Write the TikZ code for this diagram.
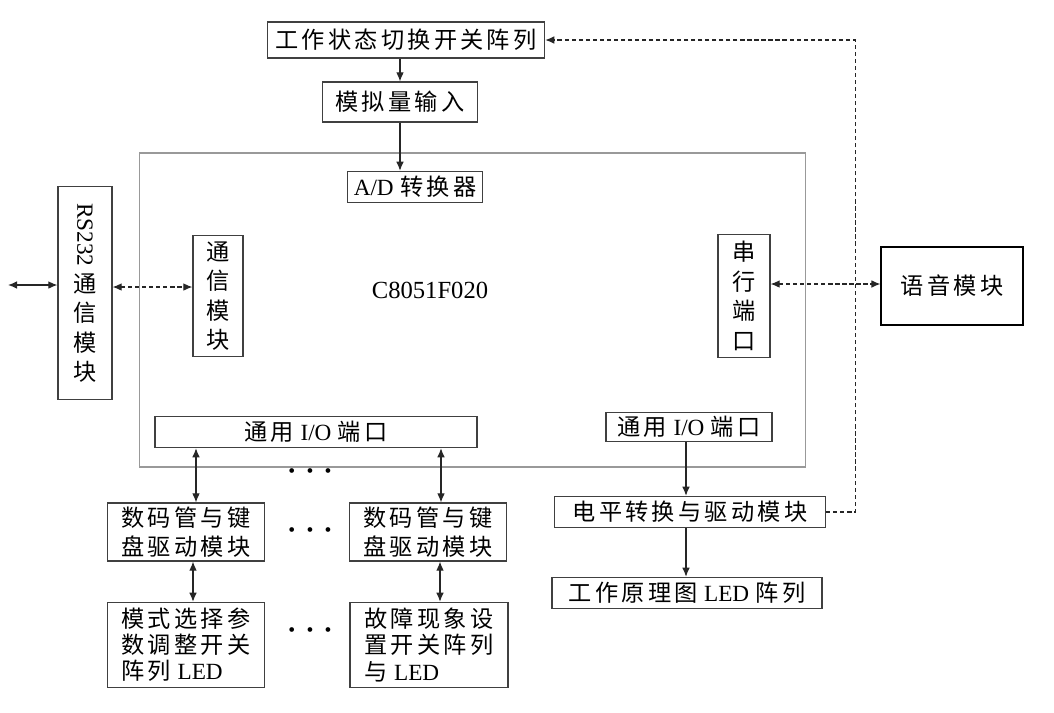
\documentclass[tikz,border=0pt]{standalone}
\usepackage{fontspec}
\usepackage{graphicx}
\setmainfont{Liberation Serif}
\newfontfamily\cjk[LetterSpace=14]{Noto Sans CJK SC}
\newcommand\cjktext{\fontsize{16.5}{21}\selectfont\cjk}
\usetikzlibrary{arrows.meta}
\usetikzlibrary{positioning}
\tikzset{
  box/.style= {draw=black!75, line width=0.8pt, inner sep=1pt, font=\cjktext},
  bigbox/.style= {draw=black!40, line width=0.8pt},
  solidbox/.style= {draw=black, line width=1.3pt, inner sep=1pt, font=\cjktext},
  link/.style= {draw=black!85, line width=0.9pt, -{Latex[length=6.5pt,width=5.5pt]}},
  dlink/.style= {draw=black!85, line width=0.9pt, {Latex[length=6.5pt,width=5.5pt]}-{Latex[length=6.5pt,width=5.5pt]}},
  bus/.style= {densely dashed},
  dots/.style= {font=\fontsize{14}{14}\selectfont},
}
\newcommand\lat[1]{{\rmfamily #1}}

\begin{document}
\begin{tikzpicture}[x=0.025cm, y=-0.025cm]
  \useasboundingbox (0,0) rectangle (1054,712);

  \node [bigbox, minimum width=16.63cm, minimum height=7.85cm] (mcu) at (472.5,310) {};
  \node [font=\fontsize{17.5}{20}\selectfont] (chip) at (430,290) {C8051F020};

  \node [box, minimum width=6.93cm, minimum height=0.9cm] (state) at (406,40) {工作状态切换开关阵列};
  \node [box, minimum width=3.88cm, minimum height=1cm] (analog) at (400,102) {模拟量输入};
  \node [box, minimum width=3.38cm, minimum height=0.78cm] (adc) at (415,187) {\lat{A/D}\;转换器};

  \node [box, align=center, minimum width=1.35cm, minimum height=5.33cm] (rs) at (85,293)
    {\rotatebox{-90}{\lat{RS232}}\\[4pt]通\\信\\模\\块};
  \node [box, align=center, minimum width=1.25cm, minimum height=3.03cm] (com) at (218,296) {通\\信\\模\\块};
  \node [box, align=center, minimum width=1.3cm, minimum height=3.08cm] (uart) at (744,296) {串\\行\\端\\口};
  \node [solidbox, minimum width=3.53cm, minimum height=1.95cm] (voice) at (952,286) {语音模块};

  \node [box, minimum width=8.05cm, minimum height=0.78cm] (gpioL) at (316,432) {通用\;\lat{I/O}\;端口};
  \node [box, minimum width=4.15cm, minimum height=0.73cm] (gpioR) at (689,427) {通用\;\lat{I/O}\;端口};

  \node [box, align=left, minimum width=3.93cm, minimum height=1.45cm] (segL) at (186,532) {数码管与键\\盘驱动模块};
  \node [box, align=left, minimum width=3.93cm, minimum height=1.45cm] (segR) at (428,532) {数码管与键\\盘驱动模块};
  \node [box, align=left, minimum width=3.93cm, minimum height=2.13cm,
    font=\fontsize{16.5}{18.5}\selectfont\cjk] (mode) at (186,645) {模式选择参\\数调整开关\\阵列\;\lat{LED}};
  \node [box, align=left, minimum width=3.95cm, minimum height=2.13cm,
    font=\fontsize{16.5}{18.5}\selectfont\cjk] (fault) at (429,645) {故障现象设\\置开关阵列\\与\;\lat{LED}};

  \node [box, minimum width=6.78cm, minimum height=0.78cm] (drv) at (690,512) {电平转换与驱动模块};
  \node [box, minimum width=6.75cm, minimum height=0.78cm] (ledarr) at (687,593) {工作原理图\;\lat{LED}\;阵列};

  \node [dots] (dotsA) at (310,473) {\textbullet\hspace{8pt}\textbullet\hspace{8pt}\textbullet};
  \node [dots] (dotsB) at (310,532) {\textbullet\hspace{8pt}\textbullet\hspace{8pt}\textbullet};
  \node [dots] (dotsC) at (310,632) {\textbullet\hspace{8pt}\textbullet\hspace{8pt}\textbullet};

  \coordinate (ext) at (8,285);

  % analog path
  \draw [link] (analog.north |- state.south) -- (analog.north);
  \draw [link] (analog.south) -- (analog.south |- adc.north);

  % serial links
  \draw [dlink] (ext) -- (ext -| rs.west);
  \draw [dlink, bus] (rs.east |- 0,287) -- (com.west |- 0,287);
  \draw [dlink, bus] (uart.east |- 0,284) -- (voice.west |- 0,284);

  % io ports
  \draw [dlink] (gpioL.south -| 196,0) -- (segL.north -| 196,0);
  \draw [dlink] (gpioL.south -| 441,0) -- (segR.north -| 441,0);
  \draw [dlink] (segL.south -| 193,0) -- (mode.north -| 193,0);
  \draw [dlink] (segR.south -| 440,0) -- (fault.north -| 440,0);
  \draw [link] (gpioR.south -| 686,0) -- (drv.north -| 686,0);
  \draw [link] (drv.south -| 686,0) -- (ledarr.north -| 686,0);

  % feedback to switch array
  \draw [link, bus] (drv.east) -- ++(29,0) |- (state.east);
\end{tikzpicture}
\end{document}
